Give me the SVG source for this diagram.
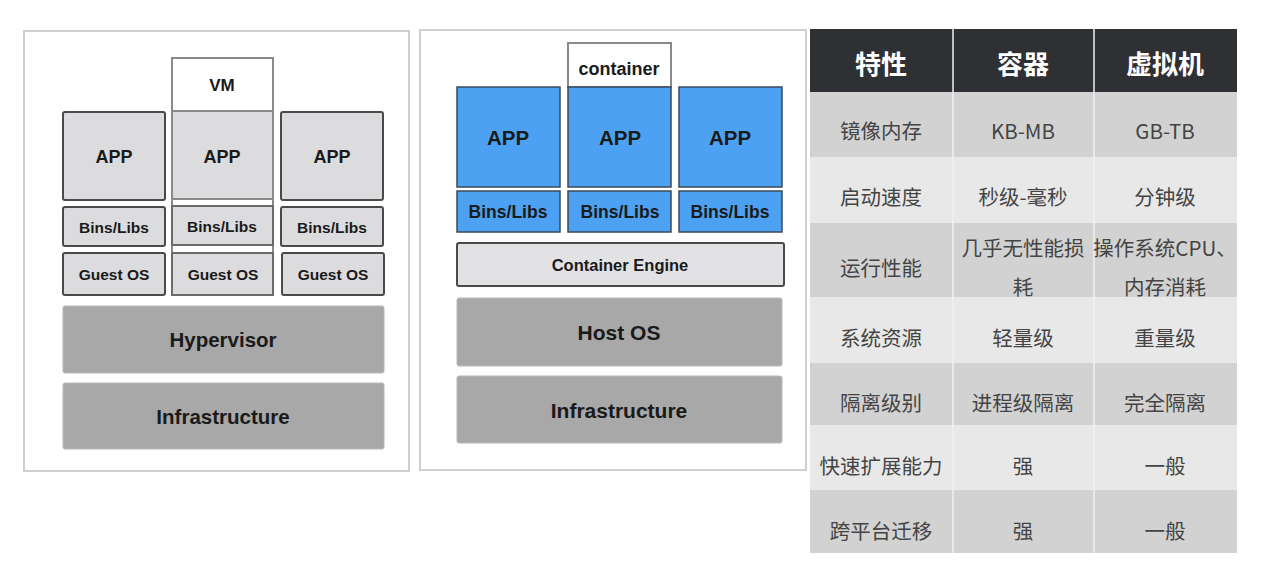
<svg xmlns="http://www.w3.org/2000/svg" width="1280" height="571" viewBox="0 0 1280 571">
<defs>
<style>
.panel{fill:#fff;stroke:#cfcfcf;stroke-width:2}
.lg{fill:#dcdcde;stroke:#4a4a4a;stroke-width:2}
.dg{fill:#a8a8a8;stroke:#b8b8b8;stroke-width:1}
.bl{fill:#4da1f3;stroke:#3a4a5a;stroke-width:1.5}
.wb{fill:#fff;stroke:#8a8a8a;stroke-width:2}
.t{font-family:"Liberation Sans",Arial,sans-serif;font-weight:bold;fill:#1a1a1a;text-anchor:middle;dominant-baseline:central}
.h{font-family:"Noto Sans CJK SC","Noto Sans",sans-serif;font-weight:bold;fill:#fff;text-anchor:middle;dominant-baseline:central;font-size:26px}
.c{font-family:"Noto Sans CJK SC","Liberation Sans",sans-serif;fill:#444;text-anchor:middle;dominant-baseline:central;font-size:20.5px}
.r1{fill:#d2d2d2}
.r2{fill:#e8e8e8}
.div{stroke:#f0f0f0;stroke-width:1.5}
</style>
</defs>
<rect width="1280" height="571" fill="#fff"/>

<g id="vm-panel">
<rect class="panel" x="24" y="31" width="385" height="440"/>
<g id="vm-label"><rect class="wb" x="172" y="58" width="101" height="237"/><text class="t" x="222" y="85" font-size="17">VM</text></g>
<g id="vm-app1"><rect class="lg" x="63" y="112" width="102" height="88" rx="2"/><text class="t" x="114" y="157" font-size="18">APP</text></g>
<g id="vm-app2"><rect class="lg" x="172" y="111" width="101" height="88" style="stroke:#8a8a8a"/><text class="t" x="222" y="157" font-size="18">APP</text></g>
<g id="vm-app3"><rect class="lg" x="281" y="112" width="102" height="88" rx="2"/><text class="t" x="332" y="157" font-size="18">APP</text></g>
<g id="vm-bins1"><rect class="lg" x="63" y="207" width="102" height="39" rx="2"/><text class="t" x="114" y="227" font-size="15.5">Bins/Libs</text></g>
<g id="vm-bins2"><rect class="lg" x="172" y="206" width="101" height="39" style="stroke:#6a6a6a"/><text class="t" x="222" y="226" font-size="15.5">Bins/Libs</text></g>
<g id="vm-bins3"><rect class="lg" x="281" y="207" width="102" height="39" rx="2"/><text class="t" x="332" y="227" font-size="15.5">Bins/Libs</text></g>
<g id="vm-os1"><rect class="lg" x="63" y="253" width="102" height="42" rx="2"/><text class="t" x="114" y="274" font-size="15.5">Guest OS</text></g>
<g id="vm-os2"><rect class="lg" x="172" y="253" width="101" height="42" style="stroke:#6a6a6a"/><text class="t" x="223" y="274" font-size="15.5">Guest OS</text></g>
<g id="vm-os3"><rect class="lg" x="282" y="253" width="102" height="42" rx="2"/><text class="t" x="333" y="274" font-size="15.5">Guest OS</text></g>
<g id="hypervisor"><rect class="dg" x="63" y="306" width="321" height="67" rx="2"/><text class="t" x="223" y="339" font-size="20.5">Hypervisor</text></g>
<g id="vm-infra"><rect class="dg" x="63" y="383" width="321" height="66" rx="2"/><text class="t" x="223" y="416" font-size="20.5">Infrastructure</text></g>
</g>

<g id="container-panel">
<rect class="panel" x="420" y="30" width="386" height="440"/>
<g id="container-label"><rect class="wb" x="568" y="43" width="103" height="44"/><text class="t" x="619" y="69" font-size="18">container</text></g>
<g id="c-app1"><rect class="bl" x="457" y="87" width="103" height="100"/><text class="t" x="508" y="137" font-size="20.5">APP</text></g>
<g id="c-app2"><rect class="bl" x="568" y="87" width="103" height="100"/><text class="t" x="620" y="137" font-size="20.5">APP</text></g>
<g id="c-app3"><rect class="bl" x="679" y="87" width="103" height="100"/><text class="t" x="730" y="137" font-size="20.5">APP</text></g>
<g id="c-bins1"><rect class="bl" x="457" y="191" width="103" height="41"/><text class="t" x="508" y="212" font-size="17.5">Bins/Libs</text></g>
<g id="c-bins2"><rect class="bl" x="568" y="191" width="103" height="41"/><text class="t" x="620" y="212" font-size="17.5">Bins/Libs</text></g>
<g id="c-bins3"><rect class="bl" x="679" y="191" width="103" height="41"/><text class="t" x="730" y="212" font-size="17.5">Bins/Libs</text></g>
<g id="engine"><rect class="lg" x="457" y="243" width="327" height="43" rx="2" style="fill:#e2e2e4"/><text class="t" x="620" y="265" font-size="16.5">Container Engine</text></g>
<g id="hostos"><rect class="dg" x="457" y="298" width="325" height="68" rx="2"/><text class="t" x="619" y="332" font-size="21">Host OS</text></g>
<g id="c-infra"><rect class="dg" x="457" y="376" width="325" height="67" rx="2"/><text class="t" x="619" y="410" font-size="21">Infrastructure</text></g>
</g>

<g id="table">
<rect x="810" y="29" width="427" height="63" fill="#2f3033"/>
<rect class="r1" x="810" y="92" width="427" height="65"/>
<rect class="r2" x="810" y="157" width="427" height="66"/>
<rect class="r1" x="810" y="223" width="427" height="74"/>
<rect class="r2" x="810" y="297" width="427" height="66"/>
<rect class="r1" x="810" y="363" width="427" height="62"/>
<rect class="r2" x="810" y="425" width="427" height="65"/>
<rect class="r1" x="810" y="490" width="427" height="63"/>
<line class="div" x1="953" y1="29" x2="953" y2="553"/>
<line class="div" x1="1094" y1="29" x2="1094" y2="553"/>
<text class="h" x="881" y="62">特性</text>
<text class="h" x="1023" y="62">容器</text>
<text class="h" x="1165" y="62">虚拟机</text>
<text class="c" x="881" y="130">镜像内存</text>
<text class="c" x="1023" y="130">KB-MB</text>
<text class="c" x="1165" y="130">GB-TB</text>
<text class="c" x="881" y="196">启动速度</text>
<text class="c" x="1023" y="196">秒级-毫秒</text>
<text class="c" x="1165" y="196">分钟级</text>
<text class="c" x="881" y="267">运行性能</text>
<text class="c" x="1023" y="247">几乎无性能损</text>
<text class="c" x="1023" y="286">耗</text>
<text class="c" x="1165" y="247">操作系统CPU、</text>
<text class="c" x="1165" y="286">内存消耗</text>
<text class="c" x="881" y="337">系统资源</text>
<text class="c" x="1023" y="337">轻量级</text>
<text class="c" x="1165" y="337">重量级</text>
<text class="c" x="881" y="402">隔离级别</text>
<text class="c" x="1023" y="402">进程级隔离</text>
<text class="c" x="1165" y="402">完全隔离</text>
<text class="c" x="881" y="465">快速扩展能力</text>
<text class="c" x="1023" y="465">强</text>
<text class="c" x="1165" y="465">一般</text>
<text class="c" x="881" y="530">跨平台迁移</text>
<text class="c" x="1023" y="530">强</text>
<text class="c" x="1165" y="530">一般</text>
</g>
</svg>
